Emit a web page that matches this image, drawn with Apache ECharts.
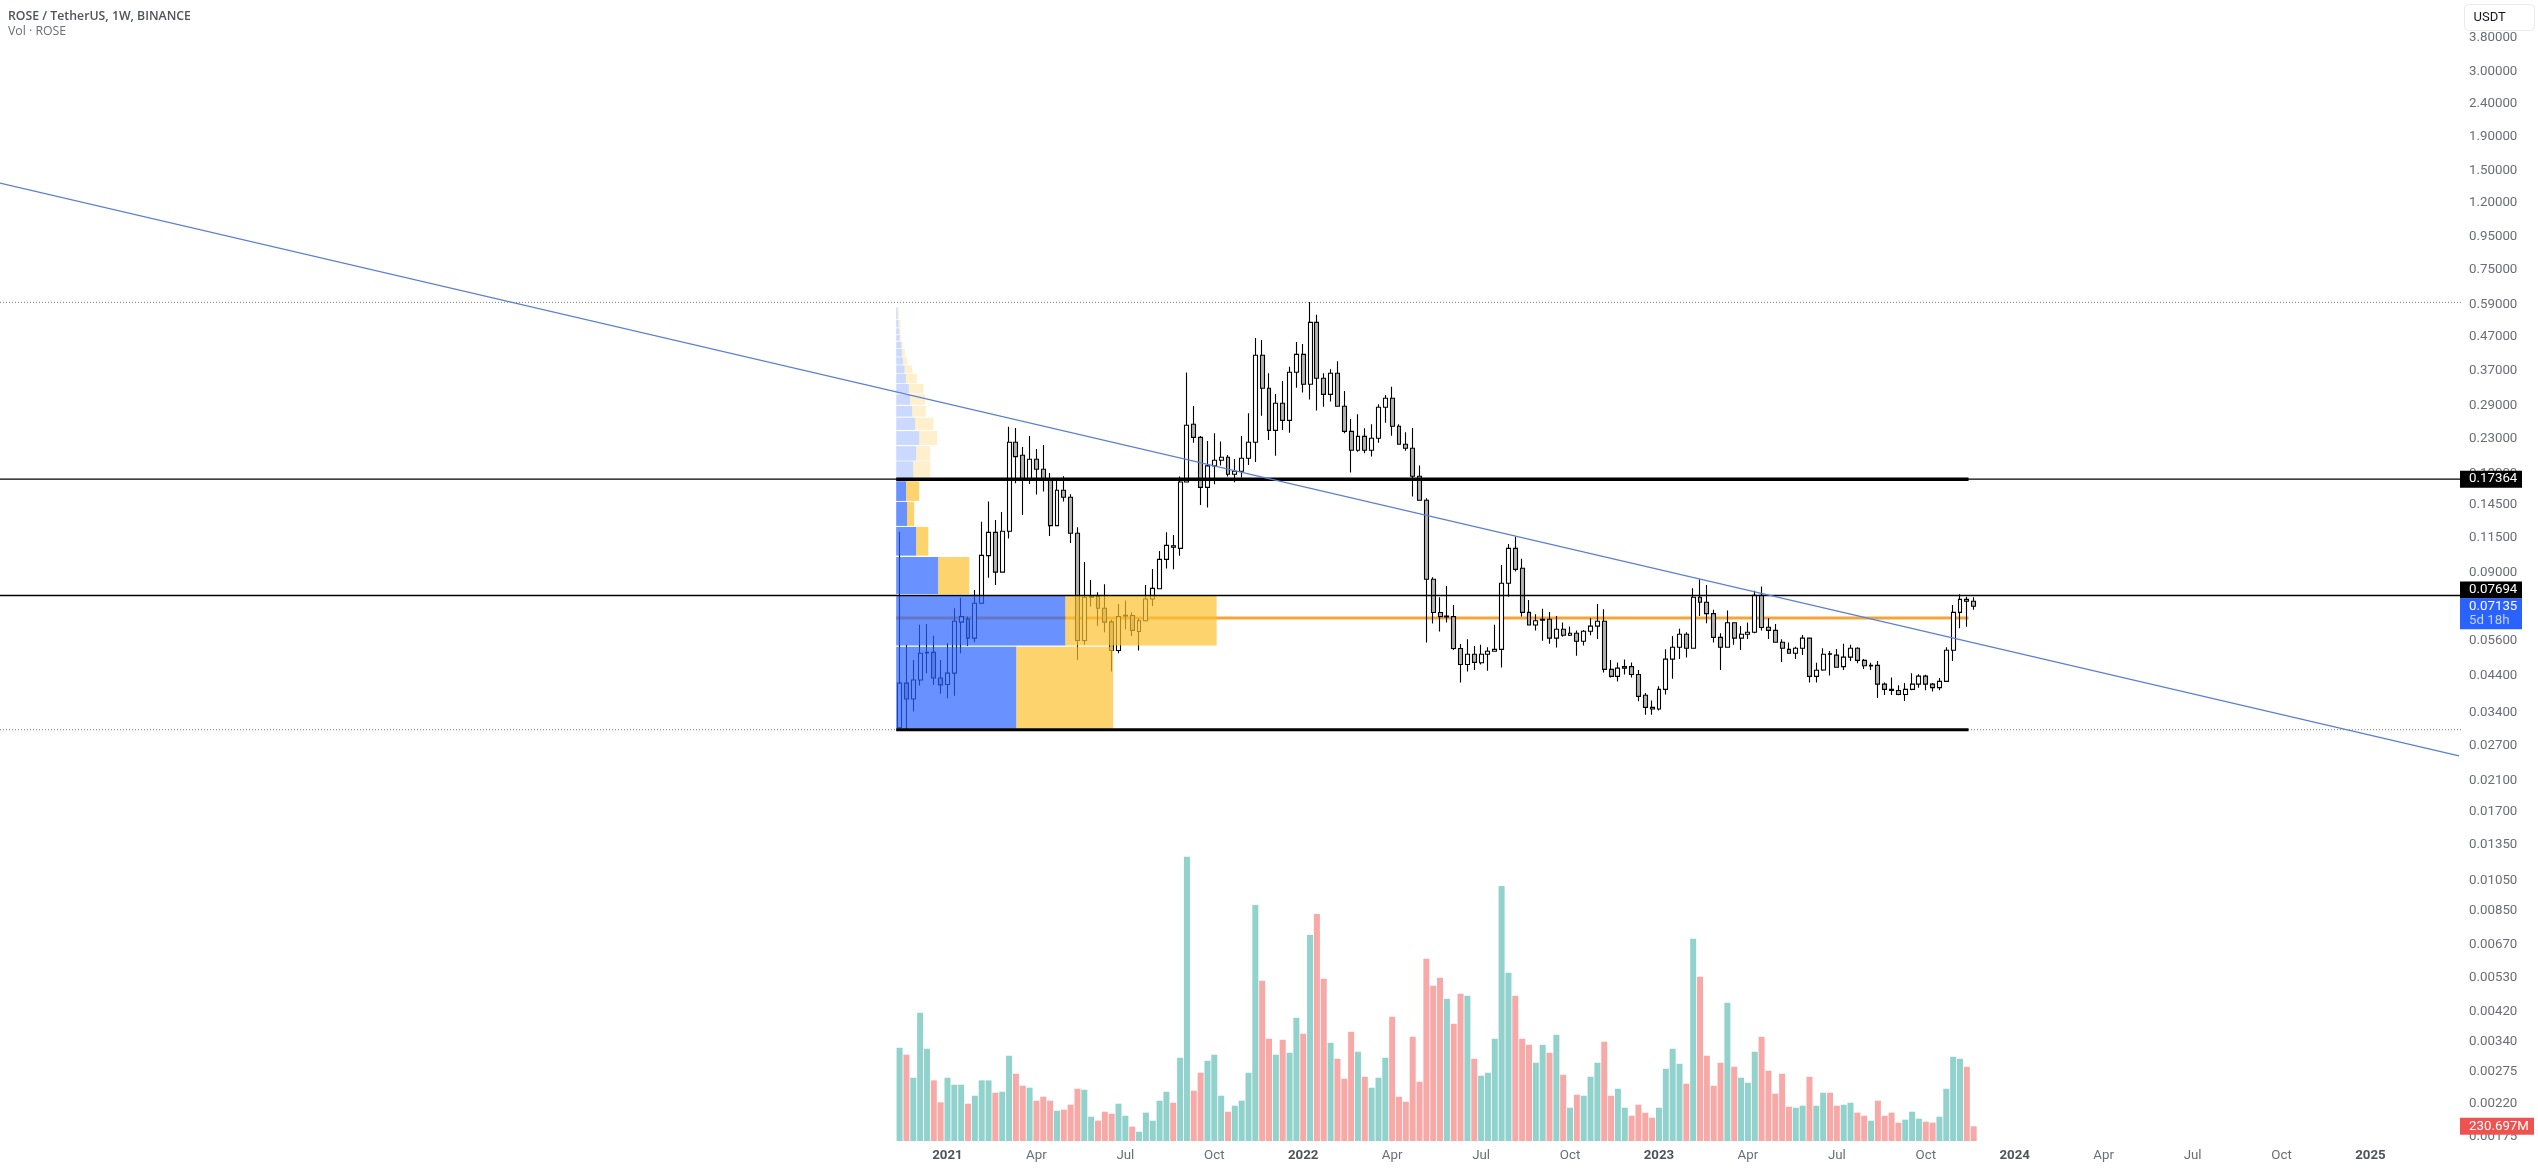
<!DOCTYPE html>
<html>
<head>
<meta charset="utf-8">
<title>ROSE / TetherUS</title>
<script src="https://cdn.jsdelivr.net/npm/echarts@6/dist/echarts.min.js"></script>
<style>
html, body { margin: 0; padding: 0; background: #fff; }
#chart { width: 2538px; height: 1169px; }
</style>
</head>
<body>
<div id="chart"></div>
<script>
// weekly candles from 2020-11-16
const opens = [
    .0305,.0417,.0373,.0426,.0515,.0517,.0432,.0413,.0447,.0639,
    .0653,.0571,.0729,.1017,.1197,.0906,.1206,.2247,.2052,.1722,
    .1996,.1861,.1722,.1255,.1607,.1530,.1189,.0562,.0760,.0765,
    .0704,.0640,.0524,.0667,.0669,.0598,.0645,.0751,.0807,.0991,
    .1090,.1070,.1703,.2549,.2326,.1640,.1905,.1982,.2024,.1797,
    .1835,.2010,.2247,.4129,.3278,.2443,.2952,.2620,.3667,.4157,
    .3371,.5200,.3516,.3143,.3642,.2891,.2426,.2125,.2343,.2125,
    .2311,.2871,.3057,.2513,.2216,.2155,.1772,.1498,.0862,.0683,
    .0662,.0664,.0531,.0475,.0510,.0481,.0510,.0521,.0528,.0838,
    .1070,.0931,.0684,.0626,.0647,.0652,.0571,.0608,.0583,.0591,
    .0559,.0599,.0621,.0643,.0459,.0437,.0463,.0468,.0443,.0383,
    .0352,.0348,.0399,.0493,.0536,.0587,.0532,.0760,.0734,.0678,
    .0574,.0536,.0636,.0571,.0587,.0595,.0771,.0616,.0603,.0555,
    .0528,.0514,.0532,.0571,.0437,.0457,.0512,.0507,.0468,.0500,
    .0532,.0489,.0470,.0472,.0414,.0399,.0396,.0385,.0399,.0414,
    .0438,.0414,.0404,.0422,.0525,.0684,.0749,.0739
];
const closes = [
    .0417,.0373,.0426,.0514,.0517,.0432,.0412,.0447,.0643,.0664,
    .0571,.0729,.1019,.1197,.0906,.1206,.2247,.2033,.1722,.1996,
    .1861,.1722,.1255,.1607,.1530,.1189,.0562,.0760,.0765,.0704,
    .0639,.0524,.0664,.0670,.0603,.0645,.0751,.0809,.0991,.1093,
    .1078,.1703,.2531,.2326,.1640,.1905,.1982,.2024,.1797,.1835,
    .2010,.2247,.4129,.3278,.2443,.2952,.2620,.3667,.4157,.3371,
    .5200,.3516,.3143,.3642,.2891,.2426,.2125,.2343,.2125,.2311,
    .2871,.3057,.2513,.2216,.2155,.1772,.1498,.0862,.0683,.0664,
    .0666,.0531,.0475,.0510,.0482,.0510,.0521,.0528,.0838,.1070,
    .0924,.0684,.0626,.0645,.0652,.0571,.0608,.0583,.0591,.0559,
    .0599,.0621,.0643,.0459,.0437,.0463,.0468,.0443,.0380,.0352,
    .0348,.0399,.0493,.0536,.0587,.0532,.0760,.0734,.0678,.0574,
    .0536,.0636,.0571,.0587,.0595,.0771,.0615,.0603,.0555,.0532,
    .0514,.0532,.0571,.0437,.0456,.0510,.0510,.0466,.0500,.0532,
    .0489,.0471,.0472,.0414,.0399,.0396,.0385,.0399,.0414,.0438,
    .0414,.0404,.0422,.0525,.0684,.0749,.0739,.07135
];
const lows = [
    .0303,.0301,.0342,.0410,.0447,.0412,.0387,.0375,.0382,.0514,
    .0541,.0555,.0725,.0872,.0828,.0904,.1146,.1687,.1352,.1679,
    .1559,.1592,.1167,.1255,.1484,.1112,.0490,.0545,.0712,.0623,
    .0595,.0452,.0514,.0608,.0580,.0524,.0642,.0715,.0804,.0929,
    .0924,.1017,.1695,.2242,.1450,.1424,.1675,.1909,.1768,.1699,
    .1756,.1918,.1959,.2708,.2284,.2047,.2449,.2404,.3293,.3181,
    .3029,.2805,.2884,.2987,.2884,.2393,.1818,.2105,.2080,.2034,
    .2242,.2578,.2354,.2211,.2120,.1537,.1498,.0554,.0633,.0598,
    .0637,.0526,.0419,.0452,.0457,.0475,.0455,.0521,.0465,.0763,
    .0910,.0664,.0624,.0602,.0561,.0549,.0535,.0577,.0580,.0505,
    .0542,.0583,.0568,.0449,.0434,.0422,.0443,.0434,.0367,.0334,
    .0334,.0344,.0385,.0430,.0494,.0499,.0532,.0667,.0634,.0554,
    .0457,.0536,.0545,.0526,.0568,.0591,.0602,.0568,.0554,.0483,
    .0514,.0494,.0508,.0419,.0419,.0455,.0440,.0465,.0457,.0487,
    .0479,.0460,.0457,.0376,.0384,.0384,.0383,.0368,.0397,.0404,
    .0397,.0393,.0397,.0421,.0487,.0612,.0618,.0696
];
const highs = [
    .1203,.0545,.0490,.0627,.0631,.0581,.0490,.0551,.0704,.0758,
    .0664,.0800,.1290,.1484,.1305,.1381,.2507,.2484,.2175,.2348,
    .2145,.2205,.1814,.1726,.1772,.1562,.1240,.0972,.0858,.0787,
    .0832,.0649,.0725,.0743,.0683,.0656,.0828,.0927,.1051,.1197,
    .1175,.1768,.3659,.2897,.2348,.2269,.2393,.2258,.2057,.2001,
    .2348,.2752,.4660,.4597,.3642,.3151,.3450,.3815,.4533,.4470,
    .5995,.5487,.3642,.3744,.3959,.3218,.2645,.2733,.2478,.2549,
    .2931,.3128,.3316,.2549,.2410,.2484,.1909,.1520,.0875,.0760,
    .0822,.0720,.0548,.0567,.0541,.0545,.0536,.0627,.0953,.1104,
    .1161,.0996,.0746,.0675,.0701,.0686,.0667,.0637,.0620,.0602,
    .0605,.0656,.0725,.0699,.0490,.0482,.0492,.0482,.0457,.0389,
    .0369,.0408,.0528,.0580,.0610,.0595,.0809,.0862,.0828,.0696,
    .0591,.0693,.0637,.0622,.0637,.0795,.0819,.0656,.0631,.0567,
    .0554,.0538,.0584,.0574,.0481,.0532,.0522,.0529,.0549,.0545,
    .0536,.0494,.0481,.0487,.0419,.0434,.0411,.0417,.0447,.0444,
    .0442,.0417,.0432,.0536,.0720,.0776,.0763,.0760
];
// weekly volume in millions
const volumes = [
    1464,1355,994,2014,1449,952,607,994,884,884,
    586,711,952,952,758,774,1339,1056,868,837,
    633,696,633,476,492,570,821,805,382,319,
    460,429,586,397,225,146,445,319,633,774,
    601,1308,4466,790,1072,1260,1355,711,460,554,
    633,1072,3708,2516,1606,1355,1590,1386,1935,1684,
    3237,3567,2547,1543,1292,978,1715,1402,1009,837,
    994,1308,1951,696,617,1637,931,2861,2437,2563,
    2233,1841,2312,2280,1292,1025,1072,1606,4006,2641,
    2280,1606,1511,1229,1511,1386,1668,1041,523,727,
    711,1009,1229,1559,711,821,523,397,570,445,
    366,523,1135,1449,1213,900,3175,2578,1339,868,
    1229,2170,1166,994,915,1402,1637,1104,743,1056,
    539,523,554,1009,554,758,758,554,570,601,
    445,397,319,633,397,445,288,335,460,350,
    303,288,382,821,1323,1292,1166,230.697
];
const priceTicks = [3.8,3,2.4,1.9,1.5,1.2,.95,.75,.59,.47,.37,.29,.23,.18,.145,.115,.09,.056,.044,.034,.027,.021,.017,.0135,.0105,.0085,.0067,.0053,.0042,.0034,.00275,.0022,.00175];
const xTickDates = ['2021-01-04','2021-04-05','2021-07-05','2021-10-04','2022-01-03','2022-04-04','2022-07-04','2022-10-03','2023-01-02','2023-04-03','2023-07-03','2023-10-02','2024-01-01','2024-04-01','2024-07-01','2024-09-30','2024-12-30'];
const xTickLabels = ['2021','Apr','Jul','Oct','2022','Apr','Jul','Oct','2023','Apr','Jul','Oct','2024','Apr','Jul','Oct','2025'];

// fixed range volume profile rows, bottom to top
const vpLow  = [.0303,.0542,.0778,.1017,.1252,.1491,.1739,.1977,.2205,.2449,.2689,.2920,.3166,.3395,.3642,.3869,.4091,.4338,.4576,.4780,.5017,.5315];
const vpHigh = [.0538,.0769,.1007,.1243,.1481,.1711,.1968,.2188,.2431,.2670,.2897,.3143,.3379,.3625,.3851,.4072,.4317,.4544,.4758,.4987,.5287,.5768];
const vpBuy  = [17.57,24.74,6.15,2.93,1.61,1.46,2.49,2.93,3.37,2.78,2.34,2.05,1.85,1.42,1.22,.98,.83,.73,.49,.44,.34,.2];
const vpSell = [14.15,22.1,4.54,1.76,1.02,1.90,2.49,2.05,2.64,2.68,2.0,2.2,2.1,1.61,1.12,.59,.44,.24,.2,.2,.29,.2];
const vpSolidRows = 6;
const vpStart = -.5, vpEnd = 156.25, vpPoc = .0658;

const priceHigh = .598, priceLow = .0301;
const levelTop = .17364, levelMid = .07694;
const trendWeeks = [-131.5, 227.95], trendPrices = [1.378, .02505];

const priceTags = [.17364, .07694, .07135];
const priceTagText = ['0.17364', '0.07694', '0.07135'];
const priceTagColor = ['#000000', '#000000', '#2962ff'];
const volumeTags = [230.697];
const volumeTagText = ['230.697M'];

const firstWeekIndex = 131, weekCount = 360;
const axisRight = 2462.8;
const labelFont = '13.3px Roboto';

let categories = [];
for (let k = 0; k < weekCount; k++) {
    let d = new Date(Date.UTC(2020, 10, 16 + (k - firstWeekIndex) * 7));
    categories.push(d.toISOString().slice(0, 10));
}

let candleData = opens.map(function (o, i) {
    return [i + firstWeekIndex, o, closes[i], lows[i], highs[i]];
});
let volumeData = volumes.map(function (v, i) {
    return {
        value: [i + firstWeekIndex, v],
        itemStyle: { color: closes[i] >= opens[i] ? '#92d2cc' : '#f7a9a7' }
    };
});

// horizontal or sloped drawing on the week axis
let segment = function (name, x0, y0, x1, y1, color, width, type, z) {
    return {
        name: name,
        type: 'line',
        xAxisIndex: 1,
        yAxisIndex: 0,
        data: [[x0, y0], [x1, y1]],
        symbol: 'none',
        silent: true,
        z: z,
        lineStyle: { color: color, width: width, type: type || 'solid' }
    };
};

let renderProfile = function (params, api) {
    let low = api.value(0), high = api.value(1), buy = api.value(2), sell = api.value(3);
    let solid = params.dataIndex < vpSolidRows;
    let a = api.coord([vpStart, low]);
    let b = api.coord([vpStart + buy, high]);
    let c = api.coord([vpStart + buy + sell, high]);
    return {
        type: 'group',
        children: [{
            type: 'rect',
            shape: { x: a[0], y: b[1], width: b[0] - a[0], height: a[1] - b[1] },
            style: { fill: solid ? 'rgba(41,98,255,.7)' : 'rgba(41,98,255,.24)' }
        }, {
            type: 'rect',
            shape: { x: b[0], y: b[1], width: c[0] - b[0], height: a[1] - b[1] },
            style: { fill: solid ? 'rgba(251,192,45,.7)' : 'rgba(251,192,45,.24)' }
        }]
    };
};

let renderPriceTag = function (params, api) {
    let i = params.dataIndex;
    let y = api.coord([0, api.value(0)])[1];
    let right = params.coordSys.x + params.coordSys.width;
    let last = i === 2;
    // the tag for the level is pushed up so it clears the last price tag
    if (i === 1) y -= 5.5;
    let children = [{
        type: 'rect',
        shape: { x: right - 2.8, y: last ? y - 8 : y - 8.5, width: 62, height: last ? 31 : 17 },
        style: { fill: priceTagColor[i] }
    }, {
        type: 'text',
        style: { text: priceTagText[i], x: right + 6.2, y: y, fill: '#fff', font: labelFont, textVerticalAlign: 'middle' }
    }];
    if (last) {
        children.push({
            type: 'text',
            style: { text: '5d 18h', x: right + 6.2, y: y + 14, fill: '#c4d3ff', font: labelFont, textVerticalAlign: 'middle' }
        });
    }
    return { type: 'group', children: children };
};

let renderVolumeTag = function (params, api) {
    let y = api.coord([0, api.value(0)])[1];
    let right = params.coordSys.x + params.coordSys.width;
    return {
        type: 'group',
        children: [{
            type: 'rect',
            shape: { x: right - 2.8, y: y - 8.5, width: 74, height: 17 },
            style: { fill: '#ef5350' }
        }, {
            type: 'text',
            style: { text: volumeTagText[params.dataIndex], x: right + 6.2, y: y, fill: '#fff', font: labelFont, textVerticalAlign: 'middle' }
        }]
    };
};

let chart = echarts.init(document.getElementById('chart'));
chart.setOption({
    animation: false,
    backgroundColor: '#ffffff',
    title: {
        text: 'ROSE / TetherUS, 1W, BINANCE',
        subtext: 'Vol · ROSE',
        left: 8,
        top: 10,
        padding: 0,
        itemGap: 3,
        textStyle: { fontFamily: 'Open Sans', fontSize: 12.3, fontWeight: 600, color: '#50535e' },
        subtextStyle: { fontFamily: 'Open Sans', fontSize: 12.3, color: '#6a6d78' }
    },
    grid: { left: 0, top: 0, width: axisRight, height: 1141 },
    xAxis: [{
        type: 'category',
        data: categories,
        axisLine: { show: false },
        axisTick: { show: false },
        splitLine: { show: false },
        axisLabel: {
            interval: function (index, value) { return xTickDates.indexOf(value) >= 0; },
            margin: 8,
            formatter: function (value) {
                let label = xTickLabels[xTickDates.indexOf(value)];
                return label.length === 4 ? '{year|' + label + '}' : label;
            },
            color: '#6a6d78',
            fontFamily: 'Roboto',
            fontSize: 13.3,
            rich: { year: { fontFamily: 'Roboto', fontSize: 13.3, fontWeight: 'bold', color: '#50535e' } }
        }
    }, {
        type: 'value',
        min: -131.5,
        max: 228.5,
        show: false
    }],
    yAxis: [{
        type: 'log',
        position: 'right',
        min: .001695,
        max: 4.957,
        axisLine: { show: false },
        axisTick: { show: false },
        splitLine: { show: false },
        minorTick: { show: false },
        axisLabel: {
            customValues: priceTicks,
            margin: 6.2,
            color: '#6a6d78',
            fontFamily: 'Roboto',
            fontSize: 13.3,
            formatter: function (v) { return Number(v).toFixed(5); }
        }
    }, {
        type: 'value',
        min: 0,
        max: 17920,
        show: false
    }],
    series: [{
        name: 'Vol',
        type: 'bar',
        xAxisIndex: 0,
        yAxisIndex: 1,
        barWidth: 6,
        silent: true,
        z: 1,
        data: volumeData
    }, {
        name: 'ROSE',
        type: 'candlestick',
        xAxisIndex: 0,
        yAxisIndex: 0,
        barWidth: 4.4,
        silent: true,
        z: 2,
        encode: { x: 0, y: [1, 2, 3, 4] },
        itemStyle: { color: '#ffffff', color0: '#b3b3b3', borderColor: '#000000', borderColor0: '#000000', borderWidth: 1.1 },
        data: candleData
    },
    segment('poc', vpStart, vpPoc, vpEnd, vpPoc, '#f0a63c', 3, 'solid', 2),
    {
        name: 'profile',
        type: 'custom',
        xAxisIndex: 1,
        yAxisIndex: 0,
        silent: true,
        z: 3,
        renderItem: renderProfile,
        encode: { x: 2, y: 0 },
        data: vpLow.map(function (low, i) { return [low, vpHigh[i], vpBuy[i], vpSell[i]]; })
    },
    segment('high', -131.5, priceHigh, 228.5, priceHigh, '#787b86', 1, [1, 2], 4),
    segment('low', -131.5, priceLow, 228.5, priceLow, '#787b86', 1, [1, 2], 4),
    segment('lowBox', vpStart, priceLow, vpEnd, priceLow, '#000000', 3, 'solid', 4),
    segment('top', -131.5, levelTop, 228.5, levelTop, '#000000', 1.2, 'solid', 4),
    segment('topBox', vpStart, levelTop, vpEnd, levelTop, '#000000', 3.5, 'solid', 4),
    segment('mid', -131.5, levelMid, 228.5, levelMid, '#000000', 1.5, 'solid', 4),
    segment('trend', trendWeeks[0], trendPrices[0], trendWeeks[1], trendPrices[1], '#5b7fd8', 1.3, 'solid', 5),
    {
        name: 'priceTags',
        type: 'custom',
        xAxisIndex: 1,
        yAxisIndex: 0,
        silent: true,
        z: 10,
        renderItem: renderPriceTag,
        encode: { y: 0 },
        data: priceTags.map(function (v) { return [v]; })
    }, {
        name: 'volumeTags',
        type: 'custom',
        xAxisIndex: 1,
        yAxisIndex: 1,
        silent: true,
        z: 10,
        renderItem: renderVolumeTag,
        encode: { y: 0 },
        data: volumeTags.map(function (v) { return [v]; })
    }],
    graphic: [{
        type: 'group',
        left: 2464,
        top: 4,
        z: 20,
        children: [{
            type: 'rect',
            shape: { x: 0, y: 0, width: 70, height: 26, r: 4 },
            style: { fill: '#ffffff', stroke: '#e8eaf0', lineWidth: 1 }
        }, {
            type: 'text',
            style: { text: 'USDT', x: 9, y: 13, fill: '#131722', font: '13px Roboto', textVerticalAlign: 'middle' }
        }]
    }]
});
</script>
</body>
</html>
